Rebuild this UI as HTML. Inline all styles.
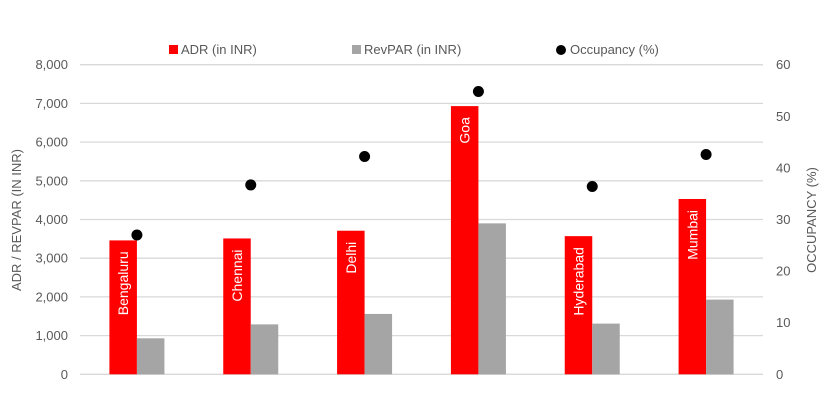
<!DOCTYPE html>
<html><head><meta charset="utf-8"><style>
html,body{margin:0;padding:0;background:#fff;}
svg{display:block;font-family:"Liberation Sans",Calibri,sans-serif;}
</style></head><body>
<svg id="chart" width="833" height="417" viewBox="0 0 833 417">
<g id="grid"></g>
<g id="bars"></g>
<g id="dots"></g>
<g id="axes"></g>
<g font-size="13" fill="#595959">
  <g><rect x="169" y="45" width="9" height="9" fill="#ff0000"/><text x="181" y="54">ADR (in INR)</text></g>
  <g><rect x="352" y="45" width="9" height="9" fill="#a5a5a5"/><text x="364" y="54">RevPAR (in INR)</text></g>
  <g><circle cx="561" cy="50" r="5" fill="#000"/><text x="570" y="54">Occupancy (%)</text></g>
</g>
<text transform="translate(21,220) rotate(-90)" text-anchor="middle" font-size="13" fill="#595959">ADR / REVPAR (IN INR)</text>
<text transform="translate(816,220) rotate(-90)" text-anchor="middle" font-size="13" fill="#595959">OCCUPANCY (%)</text>
</svg>
<script>
const categories = ["Bengaluru","Chennai","Delhi","Goa","Hyderabad","Mumbai"];
const adrValues = [3460,3510,3710,6930,3570,4530];
const revparValues = [930,1290,1560,3900,1310,1930];
const occupancyValues = [27.0,36.7,42.2,54.8,36.4,42.6];
const leftTicks = ["0","1,000","2,000","3,000","4,000","5,000","6,000","7,000","8,000"];
const rightTicks = ["0","10","20","30","40","50","60"];

const NS="http://www.w3.org/2000/svg";
const X0=80,X1=763,Y0=374.3,Y1=64.7,LMAX=8000,RMAX=60;
const band=(X1-X0)/categories.length, bw=27.5;
const yL=v=>Y0-(v/LMAX)*(Y0-Y1);
const yR=v=>Y0-(v/RMAX)*(Y0-Y1);
const xC=i=>X0+band*(i+0.5);
function mk(tag,attrs,parent){const e=document.createElementNS(NS,tag);for(const k in attrs)e.setAttribute(k,attrs[k]);parent.appendChild(e);return e;}
const grid=document.getElementById('grid'),bars=document.getElementById('bars'),dots=document.getElementById('dots'),axes=document.getElementById('axes');
leftTicks.forEach((t,i)=>{
  const v=i*1000,y=yL(v);
  const l=mk('line',{x1:X0,x2:X1,y1:y,y2:y,stroke:'#d9d9d9','stroke-width':1.3},grid);
  
  
  const tx=mk('text',{x:68,y:y+4.5,'text-anchor':'end','font-size':13,fill:'#595959'},axes);
  tx.textContent=t;
  
  
});
rightTicks.forEach((t,i)=>{
  const y=yR(i*10);
  const tx=mk('text',{x:776,y:y+4.5,'font-size':13,fill:'#595959'},axes);
  tx.textContent=t;
  
  
});
categories.forEach((c,i)=>{
  const cx=xC(i);
  const ya=yL(adrValues[i]);
  const r=mk('rect',{x:cx-bw,y:ya,width:bw,height:Y0-ya,fill:'#ff0000'},bars);
  
  
  const yr=yL(revparValues[i]);
  const g=mk('rect',{x:cx,y:yr,width:bw,height:Y0-yr,fill:'#a5a5a5'},bars);
  
  
  const lab=mk('text',{transform:`translate(${cx-bw/2+5},${ya+11}) rotate(-90)`,'text-anchor':'end','font-size':14,fill:'#fff'},bars);
  lab.textContent=c;
  
  
  const d=mk('circle',{cx:cx,cy:yR(occupancyValues[i]),r:5.5,fill:'#000'},dots);
  
  
});
</script>
</body></html>
